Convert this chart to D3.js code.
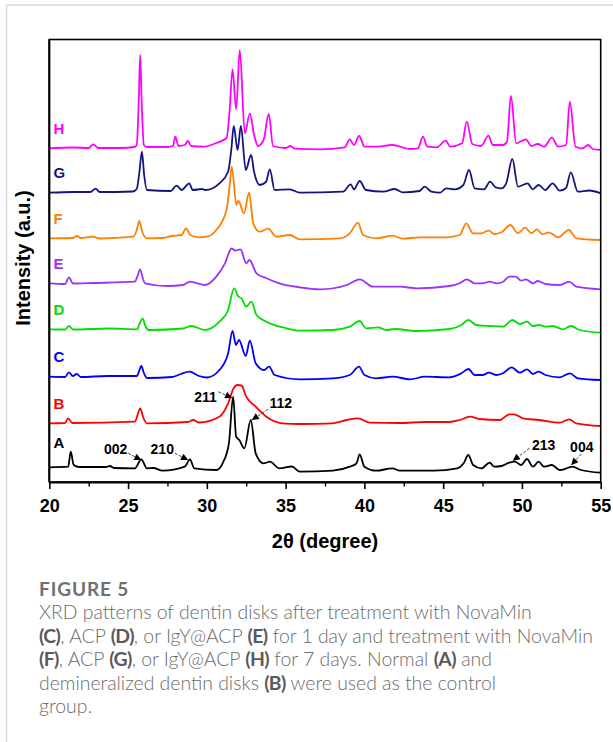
<!DOCTYPE html>
<html>
<head>
<meta charset="utf-8">
<script src="https://cdn.jsdelivr.net/npm/d3@7"></script>
<style>
  body { margin: 0; background: #fff; }
  svg { display: block; }
</style>
</head>
<body>
<svg id="chart" width="613" height="742"></svg>
<script>
// series: [2theta, plotted intensity (a.u., stacked)]
const seriesNames = ["A", "B", "C", "D", "E", "F", "G", "H"];
const seriesColors = ["#000000", "#ff0000", "#0000ff", "#00e000", "#9933ff", "#ff8000", "#14147f", "#ff00ff"];

const seriesA = [[20,14.7],[21.2,15.3],[21.36,30.3],[21.55,17],[21.9,15],[23.6,15],[23.85,16],[24.1,14],
  [25.43,13.7],[25.84,22.7],[26.2,13.7],[26.6,14],[27.2,11.3],[28.6,15.3],[28.93,22.7],[29.2,13.7],
  [30.6,12],[31.0,18.7],[31.4,38.7],[31.67,85.3],[31.86,45.3],[32.06,42],[32.38,33.7],[32.79,62],
  [33.1,28.7],[33.6,18.7],[34.0,20.3],[34.6,13.7],[35.4,15.5],[35.9,10.3],[38.0,11.3],[39.07,15.3],
  [39.5,18.7],[39.7,27.7],[40.0,15.3],[40.75,11.3],[41.78,13.7],[42.25,11.3],[44.4,11.3],[45.9,13.7],
  [46.3,18.7],[46.6,27],[46.9,17],[47.43,13.7],[47.95,19.3],[48.25,15.3],[48.7,16],[49.2,19.3],
  [49.55,20.3],[49.95,17],[50.32,23],[50.7,15.3],[51.06,20.3],[51.4,15.3],[51.9,17],[52.4,12],
  [52.9,14],[53.2,15.3],[53.75,12],[55,9.3]];

const seriesB = [[20,58.7],[21.0,59],[21.2,63.7],[21.45,59],[25.43,60.3],[25.62,68],[25.77,73.7],[25.95,65],
  [26.2,58.7],[28.8,60],[29.13,62],[29.5,59.5],[30.8,65.3],[31.35,78.7],[31.7,93.7],[31.93,97],
  [32.2,96.5],[32.5,85.3],[33.1,75.3],[33.78,65.3],[34.8,58.7],[35.9,58],[38.0,58.7],[38.9,62],
  [39.6,63.7],[40.35,59.3],[42.25,59],[43.83,60],[45.4,60],[46.05,62],[46.7,65.3],[47.3,63],
  [48.6,62],[49.2,67.7],[49.5,67.7],[50.06,63.7],[51.1,62],[52.4,59.3],[53.0,62.7],[53.45,58.7],[55,56]];

const seriesC = [[20,105.3],[21.0,105],[21.25,109.7],[21.5,106],[21.74,108],[22.0,105],[23.7,106],[25.57,106],
  [25.72,112],[25.84,116],[26.0,109],[26.2,104],[27.8,105],[28.35,108],[28.9,110.3],[29.5,106],
  [30.0,104.5],[30.8,112],[31.35,128.7],[31.63,151],[31.85,137],[32.04,142],[32.47,126],[32.73,141.3],
  [33.1,118.7],[33.63,112],[33.95,115.3],[34.3,107],[35.9,102.7],[38.0,103.7],[39.07,107],[39.66,115.3],
  [40.0,107],[40.75,103.7],[41.8,105.3],[42.9,102.7],[43.83,105.3],[45.4,104.7],[46.15,108.7],[46.6,113],
  [47.0,107],[47.5,107],[47.9,109.3],[48.4,107],[48.8,108.7],[49.35,114.7],[49.86,109.3],[50.32,112.7],
  [50.7,108],[51.06,110.3],[51.5,107],[52.4,104.7],[53.05,108.7],[53.55,103.7],[55,102]];

const seriesD = [[20,152.7],[21.0,152.5],[21.25,156],[21.5,152.5],[23.8,153.5],[25.57,152.7],[25.75,159],[25.92,163.7],
  [26.1,156],[26.3,152],[28.5,153.5],[29.0,156],[29.9,152],[30.8,160.3],[31.35,172],[31.73,193.7],
  [32.0,185.3],[32.2,183.7],[32.5,175.3],[32.83,180.3],[33.15,167],[33.78,160.3],[35.05,153.7],[35.9,151.3],
  [38.0,152],[39.07,155.3],[39.7,161],[40.1,153.7],[40.85,154.7],[41.4,152],[41.92,153],[43.3,151],
  [45.4,153],[46.15,157],[46.6,162],[47.1,157],[47.95,156],[48.8,155.3],[49.39,162],[49.86,158],
  [50.32,160.3],[50.7,156],[51.1,157],[51.5,155.3],[51.95,156],[52.6,152.7],[53.1,156],[53.65,152],[55,149.3]];

const seriesE = [[20,198.7],[21.0,198],[21.25,204.7],[21.5,198.5],[22.8,199],[25.43,200.3],[25.6,206],[25.77,212.7],
  [25.95,203],[26.07,198.7],[27.5,196],[28.5,197],[28.93,200.3],[29.9,197],[30.6,205.3],[31.15,218.7],
  [31.57,233.5],[31.8,231.5],[32.14,232.5],[32.5,218.7],[32.7,222],[33.15,208.7],[33.78,203.7],[34.6,198.7],
  [35.9,194.7],[37.2,192.7],[38.9,197],[39.7,202.7],[40.55,195.3],[42.25,195.3],[43.3,193.7],[45.4,196],
  [46.05,198.7],[46.5,202.7],[47.0,198.7],[47.5,198.7],[47.95,200.3],[48.4,198.7],[48.8,200.3],[49.2,205.3],
  [49.6,205.3],[49.95,201.3],[50.25,202.7],[50.7,198.7],[51.0,201],[51.5,198],[52.4,197],[53.0,200.3],
  [53.45,195.3],[55,192.7]];

const seriesF = [[20,243.7],[21.5,244],[21.74,246],[22.0,244],[22.76,245.3],[23.2,243.5],[25.35,245.3],[25.55,252],
  [25.71,261],[25.9,250],[26.2,243.7],[27.2,244],[27.8,246],[28.4,247],[28.68,253.7],[28.95,247],
  [29.5,244.7],[30.0,245.3],[30.6,252],[31.25,272],[31.45,297],[31.58,315.3],[31.88,277],[32.0,281.3],
  [32.35,268.7],[32.68,289.3],[32.94,258.7],[33.36,250.3],[33.89,253.3],[34.42,245.3],[35.26,247],[35.9,242.7],
  [38.45,243.7],[39.07,248.7],[39.6,259.3],[39.9,247],[40.75,243.7],[41.8,246.3],[42.45,243.3],[43.5,244.7],
  [45.2,244.7],[46.05,247],[46.47,258.7],[46.9,248.7],[47.43,248.7],[47.88,251.3],[48.25,248],[48.7,249.7],
  [49.26,257],[49.75,248.7],[50.2,254.3],[50.6,248.7],[50.95,252.7],[51.3,247.7],[51.7,249.7],[52.3,244.7],
  [52.98,252],[53.45,243.7],[55,242]];

const seriesG = [[20,289.3],[21.5,290],[22.6,290],[22.94,293.3],[23.2,290],[25.3,290.5],[25.55,293],[25.72,310],
  [25.88,330.3],[26.02,307],[26.2,292],[27.7,291],[28.08,296.3],[28.4,292],[28.88,298.7],[29.1,292],
  [29.7,293],[29.9,292],[30.8,298.7],[31.35,310.3],[31.55,332],[31.71,356],[31.95,332],[32.16,356],
  [32.47,312],[32.81,327],[33.0,310],[33.36,297],[33.75,300],[34.0,312.7],[34.3,292],[35.26,292.7],
  [35.9,289.3],[38.65,290.3],[39.13,297.7],[39.34,292.7],[39.7,301],[40.1,292],[41.2,290.3],[41.92,293],
  [42.45,289.7],[43.5,291],[43.83,295.3],[44.25,290.3],[44.8,289.3],[45.2,293.7],[45.75,292.7],[46.28,297],
  [46.64,312],[47.0,293.7],[47.6,292.7],[47.98,300.3],[48.33,294.7],[48.7,293.7],[49.0,298.7],[49.39,323],
  [49.75,295.3],[50.36,298.7],[50.68,292.7],[51.06,297],[51.48,292],[51.95,298.7],[52.4,291.3],[52.8,294],
  [53.1,309.7],[53.55,290.3],[54.27,291.5],[55,288.7]];

const seriesH = [[20,333.7],[21.5,334.5],[22.5,334],[22.79,337.7],[23.1,334],[24.5,334],[25.4,335],[25.55,337],
  [25.68,382],[25.77,427],[25.86,382],[26.0,337],[26.2,335],[27.5,335],[27.85,336],[28.0,345.3],
  [28.2,336],[28.6,337],[28.8,341],[29.0,336],[29.8,335.3],[30.6,339],[31.25,344],[31.45,372],
  [31.63,412.7],[31.86,372.7],[32.09,432],[32.41,348.7],[32.73,368.7],[33.0,347],[33.25,336],[33.6,342],
  [33.93,368],[34.2,336],[35.0,334],[35.3,336],[35.6,333.3],[37.2,332.7],[38.75,334.7],[39.07,342.7],
  [39.34,337],[39.66,346],[40.02,335.3],[40.72,335.3],[41.78,337],[42.9,333],[43.4,333.7],[43.72,345.3],
  [44.0,335.3],[44.6,334.7],[45.16,341.3],[45.45,335.3],[46.2,338.7],[46.5,360.3],[46.85,338],[47.4,336],
  [47.88,346.3],[48.15,337],[48.8,337],[49.05,340.3],[49.3,386],[49.64,338.7],[50.25,342.7],[50.6,336],
  [51.0,338],[51.4,335.3],[51.9,344.3],[52.3,335.3],[52.8,337],[53.04,380.3],[53.4,335.3],[53.85,333.7],
  [54.2,337],[54.5,333],[55,332]];

const allSeries = [seriesA, seriesB, seriesC, seriesD, seriesE, seriesF, seriesG, seriesH];

// Miller index callouts: label centre, arrow start, arrow tip (2theta, intensity)
const peakNotes = [
  { text: "002", tx: 24.21, tv: 32.7, x0: 25.01, v0: 28.7, x1: 25.84, v1: 22 },
  { text: "210", tx: 27.17, tv: 32.7, x0: 27.97, v0: 28.7, x1: 28.81, v1: 22 },
  { text: "211", tx: 29.92, tv: 85,   x0: 30.72, v0: 90.3, x1: 31.6,  v1: 84 },
  { text: "112", tx: 34.69, tv: 79,   x0: 33.89, v0: 72.7, x1: 32.85, v1: 62 },
  { text: "213", tx: 51.38, tv: 37,   x0: 50.48, v0: 33.7, x1: 49.42, v1: 21.3 },
  { text: "004", tx: 53.8,  tv: 34.7, x0: 53.76, v0: 28,   x1: 53.13, v1: 17 }
];

const majorTicks = [20, 25, 30, 35, 40, 45, 50, 55];
const minorTicks = [22.5, 27.5, 32.5, 37.5, 42.5, 47.5, 52.5];

const captionTitle = "FIGURE 5";
const captionLines = [
  [["XRD patterns of dentin disks after treatment with NovaMin", false]],
  [["(C)", true], [", ACP ", false], ["(D)", true], [", or IgY@ACP ", false], ["(E)", true], [" for 1 day and treatment with NovaMin", false]],
  [["(F)", true], [", ACP ", false], ["(G)", true], [", or IgY@ACP ", false], ["(H)", true], [" for 7 days. Normal ", false], ["(A)", true], [" and", false]],
  [["demineralized dentin disks ", false], ["(B)", true], [" were used as the control", false]],
  [["group.", false]]
];

const svg = d3.select("#chart");
const chartFont = "'Liberation Sans', Arial, sans-serif";

// page frame
svg.append("rect")
  .attr("x", 6.5).attr("y", 5)
  .attr("width", 700).attr("height", 800)
  .attr("fill", "none")
  .attr("stroke", "#d9d9d9")
  .attr("stroke-width", 1.5);

const plotLeft = 49.3, plotRight = 600.7, plotTop = 39.5, plotBottom = 482;

const x = d3.scaleLinear().domain([20, 55]).range([plotLeft, plotRight]);
const y = d3.scaleLinear().domain([0, 442.5]).range([plotBottom, plotTop]);

const line = d3.line()
  .x(d => x(d[0]))
  .y(d => y(d[1]))
  .curve(d3.curveMonotoneX);

const plot = svg.append("g");

plot.selectAll(".trace")
  .data(allSeries)
  .enter().append("path")
  .attr("class", "trace")
  .attr("d", line)
  .attr("fill", "none")
  .attr("stroke", (d, i) => seriesColors[i])
  .attr("stroke-width", 1.8)
  .attr("stroke-linejoin", "round");

// sample letters sit above the start of each trace
plot.selectAll(".tag")
  .data(allSeries)
  .enter().append("text")
  .attr("class", "tag")
  .attr("x", 53.5)
  .attr("y", (d, i) => y(d[0][1]) - (i === 0 ? 24.5 : 20) + 5.4)
  .attr("fill", (d, i) => seriesColors[i])
  .attr("font-family", chartFont)
  .attr("font-weight", "bold")
  .attr("font-size", 15)
  .text((d, i) => seriesNames[i]);

// arrows
svg.append("defs").append("marker")
  .attr("id", "head")
  .attr("viewBox", "0 0 10 10")
  .attr("refX", 10).attr("refY", 5)
  .attr("markerWidth", 9).attr("markerHeight", 7)
  .attr("markerUnits", "userSpaceOnUse")
  .attr("orient", "auto")
  .append("path")
  .attr("d", "M0,0L10,5L0,10Z")
  .attr("fill", "#000");

const notes = plot.selectAll(".note")
  .data(peakNotes)
  .enter().append("g")
  .attr("class", "note");

notes.append("line")
  .attr("x1", d => x(d.x0)).attr("y1", d => y(d.v0))
  .attr("x2", d => x(d.x1)).attr("y2", d => y(d.v1))
  .attr("stroke", "#444")
  .attr("stroke-width", 1)
  .attr("stroke-dasharray", "3,1.5")
  .attr("marker-end", "url(#head)");

notes.append("text")
  .attr("x", d => x(d.tx))
  .attr("y", d => y(d.tv) + 5)
  .attr("text-anchor", "middle")
  .attr("font-family", chartFont)
  .attr("font-weight", "bold")
  .attr("font-size", 14)
  .text(d => d.text);

// frame
svg.append("rect")
  .attr("x", plotLeft).attr("y", plotTop)
  .attr("width", plotRight - plotLeft).attr("height", plotBottom - plotTop)
  .attr("fill", "none")
  .attr("stroke", "#000")
  .attr("stroke-width", 1.6);

const xAxis = svg.append("g")
  .attr("transform", `translate(0,${plotBottom})`)
  .call(d3.axisBottom(x).tickValues(majorTicks).tickSize(7).tickSizeOuter(0).tickPadding(10).tickFormat(d3.format("d")));

xAxis.select(".domain").attr("stroke-width", 2.2);
xAxis.selectAll(".tick line").attr("stroke-width", 1.6);
xAxis.selectAll("text")
  .attr("font-family", chartFont)
  .attr("font-weight", "bold")
  .attr("font-size", 18)
  .attr("fill", "#000");

const xMinor = svg.append("g")
  .attr("transform", `translate(0,${plotBottom})`)
  .call(d3.axisBottom(x).tickValues(minorTicks).tickSize(4.5).tickSizeOuter(0).tickFormat(""));
xMinor.select(".domain").remove();
xMinor.selectAll(".tick line").attr("stroke-width", 1.4);

svg.append("line")
  .attr("x1", plotLeft).attr("x2", plotLeft)
  .attr("y1", plotTop).attr("y2", plotBottom)
  .attr("stroke", "#000").attr("stroke-width", 2);

svg.append("text")
  .attr("x", (plotLeft + plotRight) / 2)
  .attr("y", 548)
  .attr("text-anchor", "middle")
  .attr("font-family", chartFont)
  .attr("font-weight", "bold")
  .attr("font-size", 20)
  .text("2θ (degree)");

svg.append("text")
  .attr("transform", "translate(30,258) rotate(-90)")
  .attr("text-anchor", "middle")
  .attr("font-family", chartFont)
  .attr("font-weight", "bold")
  .attr("font-size", 20)
  .text("Intensity (a.u.)");

// caption
const capFont = "Lato, 'Open Sans', sans-serif";

svg.append("text")
  .attr("x", 39).attr("y", 596)
  .attr("font-family", capFont)
  .attr("font-weight", 700)
  .attr("font-size", 19)
  .attr("letter-spacing", 0.9)
  .attr("fill", "#707070")
  .text(captionTitle);

const cap = svg.append("g")
  .attr("font-family", capFont)
  .attr("font-size", 19.4)
  .attr("fill", "#6b6b6b");

captionLines.forEach((segs, i) => {
  const t = cap.append("text")
    .attr("x", 39)
    .attr("y", 619 + i * 23.5);
  segs.forEach(s => {
    t.append("tspan")
      .attr("font-weight", s[1] ? 700 : 300)
      .attr("letter-spacing", s[1] ? -0.6 : null)
      .attr("fill", s[1] ? "#5a5a5a" : null)
      .text(s[0]);
  });
});
</script>
</body>
</html>
